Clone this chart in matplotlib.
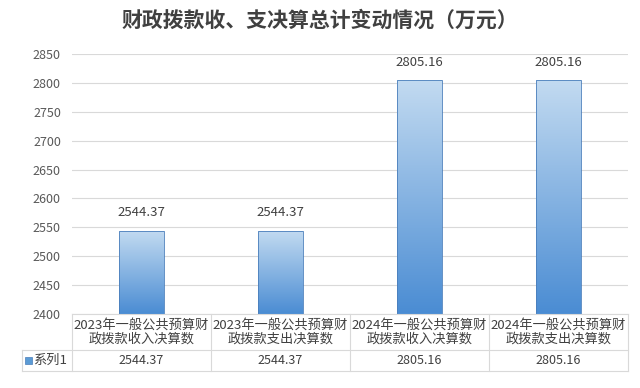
import numpy as np
import matplotlib.pyplot as plt
from matplotlib.lines import Line2D
from matplotlib.patches import Rectangle
from matplotlib.colors import LinearSegmentedColormap

plt.rcParams['font.family'] = ['Noto Sans CJK SC', 'DejaVu Sans']

# 数据
categories = ['2023年一般公共预算财\n政拨款收入决算数',
              '2023年一般公共预算财\n政拨款支出决算数',
              '2024年一般公共预算财\n政拨款收入决算数',
              '2024年一般公共预算财\n政拨款支出决算数']
values = [2544.37, 2544.37, 2805.16, 2805.16]
series_name = '系列1'
yticks = [2400, 2450, 2500, 2550, 2600, 2650, 2700, 2750, 2800, 2850]
title = '财政拨款收、支决算总计变动情况（万元）'

fig = plt.figure(figsize=(6.4, 3.88), dpi=100)
fig.patch.set_facecolor('white')

W, H = 640, 388
x0, x1 = 72, 628
ytop, ybot = 54, 314
ax = fig.add_axes([x0 / W, 1 - ybot / H, (x1 - x0) / W, (ybot - ytop) / H])
ax.set_yticks(yticks)
ax.set_xticks([])
ax.tick_params(axis='y', length=0, labelsize=9, labelcolor='#595959', pad=8)
for s in ax.spines.values():
    s.set_visible(False)
ax.grid(axis='y', color='#d9d9d9', linewidth=0.8)
ax.set_axisbelow(True)

# 渐变柱
grad = np.linspace(0, 1, 256).reshape(-1, 1)
cmap = LinearSegmentedColormap.from_list('g', ['#4a8cd3', '#c3dbf1'])
bars = ax.bar(range(len(values)), values, width=0.32, bottom=0,
              color='none', edgecolor='#4a7ebb', linewidth=0.6, zorder=3)
for b, v in zip(bars, values):
    im = ax.imshow(grad, cmap=cmap, aspect='auto', origin='lower',
                   extent=[b.get_x(), b.get_x() + b.get_width(), yticks[0], v],
                   zorder=2)
    im.set_clip_path(b)
    ax.annotate(f'{v:.2f}', (b.get_x() + b.get_width() / 2, v),
                xytext=(0, 8), textcoords='offset points', ha='center', va='bottom',
                fontsize=9.5, color='#404040')
ax.set_xlim(-0.5, len(values) - 0.5)
ax.set_ylim(yticks[0], yticks[-1])

fig.text(0.5, 1 - 20 / H, title, ha='center', va='center', fontsize=15,
         fontweight='bold', color='#404040')

# 数据表
lc = '#d9d9d9'
hdr_bot, row_bot, leg_left = 350, 371, 22
colw = (x1 - x0) / len(values)
def fx(px):
    return px / W
def fy(py):
    return 1 - py / H
for py, xa in [(ybot, x0), (hdr_bot, leg_left), (row_bot, leg_left)]:
    fig.add_artist(Line2D([fx(xa), fx(x1)], [fy(py), fy(py)], color=lc, lw=0.8))
for i in range(len(values) + 1):
    px = x0 + i * colw
    fig.add_artist(Line2D([fx(px), fx(px)], [fy(ybot), fy(row_bot)], color=lc, lw=0.8))
fig.add_artist(Line2D([fx(leg_left), fx(leg_left)], [fy(hdr_bot), fy(row_bot)], color=lc, lw=0.8))

for i, (c, v) in enumerate(zip(categories, values)):
    cx = x0 + (i + 0.5) * colw
    fig.text(fx(cx), fy((ybot + hdr_bot) / 2), c, ha='center', va='center',
             fontsize=9.5, color='#404040', linespacing=1.1)
    fig.text(fx(cx), fy((hdr_bot + row_bot) / 2), f'{v:.2f}', ha='center', va='center',
             fontsize=9, color='#404040')

fig.add_artist(Rectangle((fx(25), fy(364)), 7 / W, 7 / H, facecolor='#5b9bd5',
                         edgecolor='#4a7ebb', lw=0.5))
fig.text(fx(33), fy((hdr_bot + row_bot) / 2), series_name, ha='left', va='center',
         fontsize=9.5, color='#404040')

fig.savefig('out.png', dpi=100)
